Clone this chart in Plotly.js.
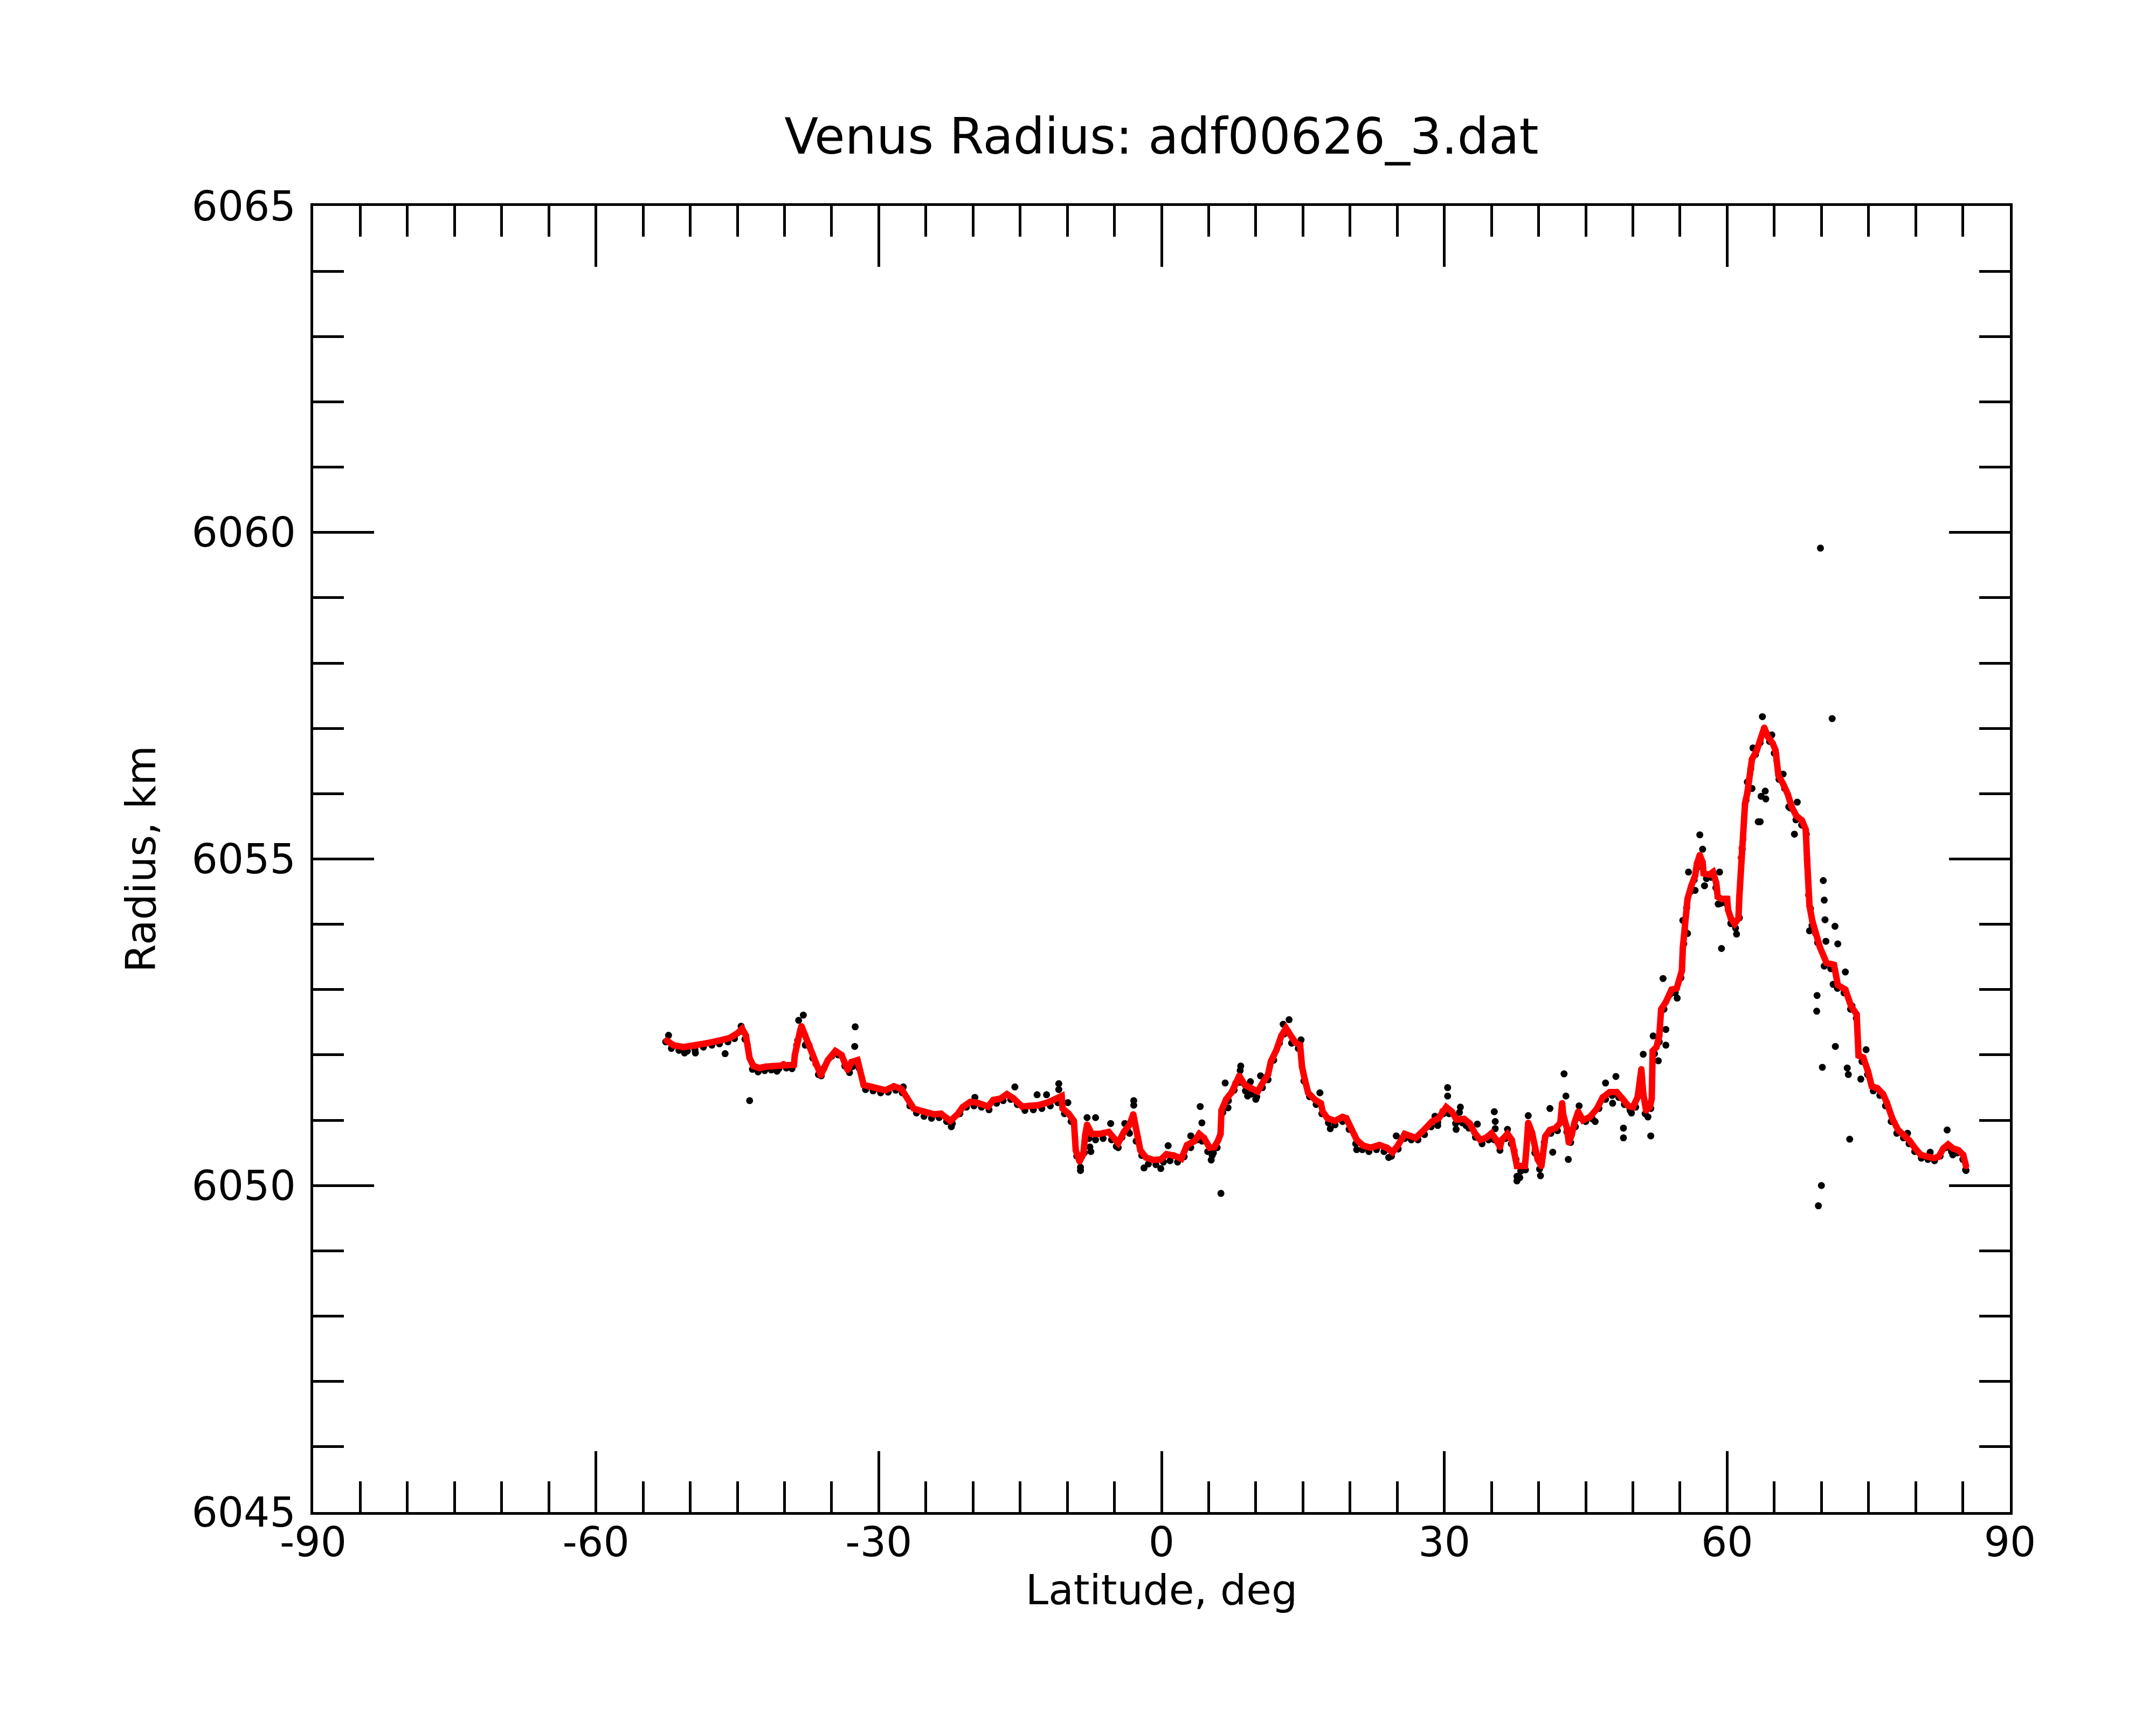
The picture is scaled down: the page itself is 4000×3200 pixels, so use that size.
<!DOCTYPE html>
<html>
<head>
<meta charset="utf-8">
<script src="https://cdn.plot.ly/plotly-3.0.1.min.js"></script>
<style>
  body { margin: 0; background: #fff; }
</style>
</head>
<body>
<div id="chart"></div>
<script>
'use strict';

// smoothed radius (red dots)
var redLat = [-52.5, -51.8, -50.7, -49.45, -48.2, -46.9, -45.8, -45.0, -44.5, -44.1, -43.9, -43.7, -43.3, -42.65, -42.0, -41.2, -40.1, -39.0,
	-38.9, -38.75, -38.4, -38.2, -37.8, -37.35, -36.7, -36.15, -35.4, -34.6, -33.95, -33.3, -32.9, -32.25, -31.6, -30.8, -30.1, -29.3, -28.4,
	-27.6, -26.95, -26.3, -25.65, -24.9, -24.1, -23.4, -22.4, -21.65, -21.1, -20.3, -19.6, -18.4, -17.85, -17.1, -16.4, -15.75, -14.8, -14.0,
	-13.1, -12.1, -11.4, -10.6, -10.5, -9.85, -9.3, -9.2, -9.1, -8.7, -8.3, -8.1, -7.9, -7.4, -6.6, -5.6, -4.6, -4.0, -3.4, -3.0, -2.55, -2.25,
	-1.66, -0.87, -0.08, 0.52, 1.31, 2.1, 2.7, 3.5, 4.0, 4.5, 5.1, 5.6, 6.0, 6.26, 6.36, 6.85, 7.45, 7.84, 8.24, 8.83, 9.6, 10.2, 10.8, 11.3,
	11.6, 12.2, 12.7, 13.2, 13.6, 14.2, 14.7, 14.9, 15.2, 15.55, 16.3, 16.9, 17.1, 17.6, 18.4, 19.2, 19.6, 20.1, 20.7, 21.4, 22.2, 23.1, 23.9,
	24.5, 25.1, 25.8, 26.4, 26.96, 27.7, 28.7, 29.4, 29.8, 30.2, 30.8, 31.3, 32.1, 32.7, 33.2, 33.8, 34.4, 35.0, 35.5, 35.9, 36.1, 36.7, 37.15,
	37.45, 37.7, 38.0, 38.55, 38.7, 38.9, 39.3, 39.6, 39.9, 40.3, 40.7, 41.2, 41.8, 42.3, 42.5, 42.6, 43.0, 43.2, 43.5, 43.8, 44.2, 44.7, 45.45,
	46.2, 46.8, 47.55, 48.3, 48.9, 49.5, 50.0, 50.5, 50.7, 50.9, 51.1, 51.4, 51.8, 52.0, 52.1, 52.5, 52.8, 53.0, 53.5, 54.1, 54.65, 55.2, 55.3,
	55.5, 55.8, 56.2, 56.6, 56.8, 57.1, 57.4, 57.5, 58.1, 58.5, 58.85, 59.0, 59.4, 60.0, 60.1, 60.4, 60.8, 61.2, 61.3, 61.35, 61.45, 61.55,
	61.7, 61.8, 61.9, 62.14, 62.34, 62.64, 63.14, 63.54, 63.94, 64.34, 64.84, 65.14, 65.24, 65.44, 65.94, 66.44, 66.84, 67.34, 67.94, 68.34,
	68.48, 68.6, 68.74, 69.04, 69.34, 69.84, 70.54, 71.34, 71.74, 72.54, 73.14, 73.74, 73.94, 74.44, 74.94, 75.34, 75.94, 76.54, 76.94, 77.54,
	78.14, 78.74, 79.34, 79.94, 80.54, 81.34, 81.94, 82.44, 82.94, 83.44, 83.94, 84.54, 85.04, 85.34];
var redRad = [6052.22, 6052.15, 6052.12, 6052.14, 6052.18, 6052.22, 6052.26, 6052.33, 6052.40, 6052.30, 6052.15, 6051.95, 6051.83, 6051.80,
	6051.82, 6051.83, 6051.86, 6051.85, 6052.00, 6052.15, 6052.33, 6052.44, 6052.30, 6052.15, 6051.86, 6051.69, 6051.92, 6052.06, 6052.00,
	6051.77, 6051.89, 6051.92, 6051.54, 6051.51, 6051.48, 6051.46, 6051.52, 6051.48, 6051.33, 6051.18, 6051.15, 6051.11, 6051.09, 6051.10,
	6050.99, 6051.09, 6051.20, 6051.28, 6051.27, 6051.21, 6051.31, 6051.33, 6051.40, 6051.34, 6051.21, 6051.22, 6051.23, 6051.27, 6051.31,
	6051.37, 6051.18, 6051.10, 6050.99, 6050.78, 6050.54, 6050.37, 6050.48, 6050.77, 6050.93, 6050.79, 6050.79, 6050.82, 6050.65, 6050.82,
	6050.93, 6051.09, 6050.76, 6050.54, 6050.43, 6050.39, 6050.40, 6050.48, 6050.46, 6050.41, 6050.62, 6050.68, 6050.79, 6050.73, 6050.58,
	6050.59, 6050.69, 6050.79, 6051.15, 6051.32, 6051.43, 6051.57, 6051.68, 6051.54, 6051.48, 6051.44, 6051.59, 6051.70, 6051.90, 6052.08,
	6052.29, 6052.41, 6052.32, 6052.19, 6052.15, 6051.82, 6051.62, 6051.42, 6051.31, 6051.26, 6051.13, 6051.03, 6050.99, 6051.05, 6051.03,
	6050.87, 6050.70, 6050.61, 6050.58, 6050.62, 6050.58, 6050.51, 6050.62, 6050.79, 6050.76, 6050.73, 6050.83, 6050.98, 6051.03, 6051.14,
	6051.20, 6051.13, 6051.01, 6051.02, 6050.95, 6050.81, 6050.70, 6050.73, 6050.80, 6050.70, 6050.59, 6050.70, 6050.79, 6050.70, 6050.53,
	6050.30, 6050.30, 6050.30, 6050.55, 6050.96, 6050.81, 6050.55, 6050.40, 6050.30, 6050.75, 6050.85, 6050.88, 6050.96, 6051.26, 6051.09,
	6050.88, 6050.66, 6050.77, 6050.96, 6051.13, 6051.00, 6051.05, 6051.18, 6051.35, 6051.43, 6051.43, 6051.33, 6051.22, 6051.20, 6051.35,
	6051.56, 6051.78, 6051.41, 6051.15, 6051.20, 6051.33, 6052.06, 6052.12, 6052.29, 6052.70, 6052.81, 6053.00, 6053.02, 6053.29, 6053.64,
	6053.92, 6054.39, 6054.59, 6054.74, 6054.93, 6055.06, 6054.95, 6054.78, 6054.76, 6054.80, 6054.63, 6054.42, 6054.39, 6054.39, 6054.22,
	6054.09, 6054.01, 6054.09, 6054.44, 6054.54, 6055.02, 6055.17, 6055.30, 6055.64, 6055.85, 6056.01, 6056.21, 6056.53, 6056.66, 6056.82,
	6057.01, 6056.87, 6056.77, 6056.66, 6056.51, 6056.28, 6056.15, 6055.99, 6055.80, 6055.66, 6055.59, 6055.45, 6054.99, 6054.45, 6054.28,
	6054.05, 6053.86, 6053.65, 6053.41, 6053.38, 6053.07, 6053.00, 6052.75, 6052.62, 6051.99, 6051.96, 6051.75, 6051.52, 6051.49, 6051.40,
	6051.27, 6051.02, 6050.85, 6050.78, 6050.69, 6050.57, 6050.47, 6050.44, 6050.42, 6050.44, 6050.57, 6050.63, 6050.57, 6050.54, 6050.47,
	6050.30];

// raw radius (black dots): main band
var blackLat = [-52.6, -52.0, -51.2, -50.3, -49.5, -48.6, -47.7, -46.9, -46.0, -45.3, -44.7, -44.2, -43.4, -42.8, -42.1, -41.4, -40.6, -39.8,
	-39.2, -38.6, -38.3, -37.6, -37.0, -36.4, -35.8, -35.0, -34.3, -33.6, -32.8, -32.1, -31.4, -30.6, -29.8, -29.0, -28.2, -27.5, -26.7, -26.0,
	-25.2, -24.4, -23.6, -22.8, -22.2, -21.4, -20.7, -19.9, -19.1, -18.3, -17.5, -16.8, -16.0, -15.3, -14.5, -13.6, -12.7, -11.8, -11.0, -10.3,
	-9.6, -9.0, -8.6, -8.2, -7.7, -7.0, -6.2, -5.3, -4.8, -4.2, -3.6, -3.1, -2.7, -2.1, -1.4, -0.6, 0.2, 0.9, 1.7, 2.4, 3.1, 3.8, 4.3, 4.9,
	5.5, 5.9, 6.5, 7.1, 7.7, 8.3, 8.9, 9.5, 10.1, 10.7, 11.3, 11.9, 12.5, 13.0, 13.4, 13.9, 14.5, 15.1, 15.7, 16.4, 17.0, 17.7, 18.4, 19.2,
	19.9, 20.6, 21.3, 22.0, 22.8, 23.6, 24.4, 25.1, 25.8, 26.5, 27.2, 27.9, 28.6, 29.3, 29.9, 30.5, 31.2, 31.9, 32.6, 33.3, 34.0, 34.7, 35.3,
	35.9, 36.5, 37.1, 37.6, 38.1, 38.6, 39.1, 39.6, 40.1, 40.6, 41.3, 42.0, 42.5, 43.0, 43.4, 43.9, 44.4, 45.0, 45.7, 46.4, 47.1, 47.8, 48.5,
	49.1, 49.7, 50.3, 50.8, 51.3, 51.9, 52.3, 52.8, 53.3, 53.9, 54.5, 55.1, 55.4, 55.7, 56.1, 56.5, 56.9, 57.3, 57.8, 58.3, 58.8, 59.3, 59.9,
	60.4, 60.9, 61.3, 61.6, 62.0, 62.5, 63.0, 63.5, 63.9, 64.5, 65.0, 65.5, 66.1, 66.7, 67.3, 67.9, 68.4, 69.0, 69.6, 70.3, 71.0, 71.7, 72.4,
	73.1, 73.7, 74.3, 74.9, 75.5, 76.2, 76.8, 77.4, 78.0, 78.7, 79.3, 79.9, 80.6, 81.3, 82.0, 82.6, 83.2, 83.8, 84.4, 85.0, 85.3];
var blackRad = [6052.20, 6052.10, 6052.07, 6052.06, 6052.08, 6052.12, 6052.15, 6052.17, 6052.20, 6052.25, 6052.36, 6052.24, 6051.78, 6051.74,
	6051.76, 6051.77, 6051.79, 6051.80, 6051.79, 6052.22, 6052.38, 6052.20, 6051.95, 6051.70, 6051.80, 6051.98, 6052.00, 6051.83, 6051.82,
	6051.80, 6051.47, 6051.45, 6051.42, 6051.43, 6051.46, 6051.42, 6051.22, 6051.11, 6051.06, 6051.03, 6051.04, 6050.98, 6050.95, 6051.10,
	6051.20, 6051.22, 6051.20, 6051.16, 6051.26, 6051.30, 6051.32, 6051.24, 6051.15, 6051.16, 6051.18, 6051.22, 6051.27, 6051.10, 6050.98,
	6050.45, 6050.28, 6050.50, 6050.72, 6050.70, 6050.72, 6050.70, 6050.60, 6050.74, 6050.84, 6051.02, 6050.68, 6050.46, 6050.33, 6050.32,
	6050.36, 6050.38, 6050.36, 6050.44, 6050.58, 6050.70, 6050.68, 6050.52, 6050.50, 6050.58, 6051.12, 6051.30, 6051.46, 6051.58, 6051.45,
	6051.40, 6051.36, 6051.50, 6051.62, 6051.92, 6052.18, 6052.32, 6052.36, 6052.20, 6052.10, 6051.60, 6051.36, 6051.24, 6051.10, 6050.96,
	6050.93, 6050.98, 6050.86, 6050.64, 6050.55, 6050.52, 6050.55, 6050.52, 6050.45, 6050.56, 6050.72, 6050.70, 6050.70, 6050.78, 6050.90,
	6050.97, 6051.10, 6051.10, 6050.95, 6050.96, 6050.88, 6050.74, 6050.64, 6050.70, 6050.70, 6050.54, 6050.72, 6050.64, 6050.40, 6050.22,
	6050.24, 6050.84, 6050.50, 6050.25, 6050.66, 6050.80, 6050.84, 6051.20, 6050.82, 6050.66, 6050.90, 6051.04, 6050.98, 6051.02, 6051.18,
	6051.32, 6051.38, 6051.35, 6051.24, 6051.15, 6051.20, 6051.64, 6051.10, 6051.18, 6052.02, 6052.20, 6052.70, 6052.92, 6052.95, 6053.18,
	6053.70, 6054.25, 6054.50, 6054.68, 6054.88, 6054.92, 6054.70, 6054.72, 6054.56, 6054.32, 6054.32, 6054.02, 6053.94, 6054.10, 6055.15,
	6055.90, 6056.38, 6056.60, 6056.78, 6056.96, 6056.80, 6056.62, 6056.22, 6056.08, 6055.78, 6055.60, 6055.52, 6055.38, 6053.98, 6053.72,
	6053.36, 6053.32, 6053.02, 6052.95, 6052.70, 6052.56, 6051.90, 6051.70, 6051.45, 6051.38, 6051.22, 6050.98, 6050.80, 6050.73, 6050.64,
	6050.52, 6050.42, 6050.40, 6050.38, 6050.45, 6050.58, 6050.52, 6050.50, 6050.40, 6050.24];

// raw radius (black dots): scattered points off the band
var strayLat = [-52.3, -50.6, -49.45, -46.3, -44.6, -43.7, -40.8, -38.5, -38.0, -37.8, -36.1, -33.1, -32.5, -32.55, -27.4, -22.3, -19.8,
	-15.56, -13.2, -12.2, -10.9, -10.9, -9.94, -8.6, -7.9, -7.6, -7.5, -7.0, -5.4, -4.6, -3.9, -3.4, -2.95, -2.95, -1.86, -0.08, 0.7, 3.1,
	4.1, 4.28, 5.27, 5.37, 6.3, 6.75, 7.05, 8.34, 8.4, 9.13, 9.43, 10.0, 10.5, 12.9, 13.53, 13.8, 14.8, 16.8, 17.9, 20.7, 24.1, 24.9, 29.0,
	29.3, 30.35, 30.35, 31.25, 31.6, 31.7, 32.3, 33.5, 35.3, 35.4, 35.4, 36.7, 37.7, 37.7, 38.0, 38.9, 40.2, 41.2, 41.5, 42.7, 42.9, 43.15,
	44.3, 46.0, 47.1, 47.85, 48.2, 49.0, 49.0, 49.85, 51.1, 51.6, 51.9, 52.15, 52.7, 53.2, 53.5, 53.5, 54.7, 55.3, 55.8, 55.9, 56.6, 57.1,
	57.4, 57.6, 59.05, 59.2, 59.4, 60.4, 61.0, 62.14, 62.64, 62.74, 63.3, 63.5, 63.6, 63.74, 64.04, 64.1, 64.74, 65.94, 66.54, 67.14, 67.44,
	68.74, 68.84, 69.5, 69.54, 69.68, 69.9, 70.0, 70.1, 70.2, 70.3, 70.38, 70.48, 71.14, 71.24, 71.44, 71.48, 71.74, 72.54, 72.74, 72.86,
	73.0, 73.24, 74.18, 74.74, 79.14, 81.54, 83.34, 83.94, 85.34];
var strayRad = [6052.30, 6052.03, 6052.03, 6052.02, 6052.44, 6051.30, 6051.75, 6052.53, 6052.61, 6052.15, 6051.68, 6051.73, 6052.43,
	6052.13, 6051.51, 6050.90, 6051.35, 6051.51, 6051.39, 6051.39, 6051.56, 6051.47, 6051.27, 6050.23, 6051.04, 6050.59, 6050.52, 6051.04,
	6050.95, 6050.58, 6050.95, 6050.80, 6051.30, 6051.23, 6050.27, 6050.26, 6050.61, 6050.76, 6051.21, 6050.96, 6050.39, 6050.46, 6049.88,
	6051.57, 6051.19, 6051.76, 6051.83, 6051.37, 6051.59, 6051.32, 6051.68, 6052.47, 6052.54, 6052.18, 6052.23, 6051.42, 6050.87, 6050.55,
	6050.43, 6050.76, 6051.06, 6050.92, 6051.50, 6051.37, 6050.86, 6051.12, 6051.20, 6050.92, 6050.94, 6051.13, 6050.98, 6050.87, 6050.86,
	6050.14, 6050.07, 6050.12, 6051.07, 6050.15, 6051.18, 6050.51, 6051.71, 6051.37, 6050.40, 6051.22, 6050.98, 6051.57, 6051.26, 6051.67,
	6050.88, 6050.73, 6051.11, 6052.01, 6051.05, 6050.76, 6052.29, 6051.91, 6053.17, 6052.39, 6052.15, 6052.87, 6054.06, 6053.86, 6054.80,
	6054.52, 6055.37, 6055.15, 6054.59, 6054.31, 6054.80, 6053.63, 6054.01, 6053.85, 6056.18, 6056.08, 6056.70, 6055.57, 6055.57, 6055.96,
	6057.18, 6056.04, 6055.92, 6056.90, 6056.30, 6055.80, 6055.38, 6055.87, 6053.90, 6054.24, 6052.67, 6052.91, 6049.69, 6059.76, 6050.00,
	6051.81, 6054.67, 6054.37, 6054.07, 6053.74, 6057.15, 6053.08, 6053.97, 6052.13, 6053.70, 6053.27, 6051.80, 6051.70, 6050.71, 6052.75,
	6051.63, 6052.08, 6050.80, 6050.51, 6050.85, 6050.47, 6050.23];

var latTicks = [-90, -60, -30, 0, 30, 60, 90];
var latLabels = ['-90', '-60', '-30', '0', '30', '60', '90'];

var font = 'DejaVu Sans';

var rawDots = {
	x: blackLat.concat(strayLat),
	y: blackRad.concat(strayRad),
	type: 'scatter',
	mode: 'markers',
	marker: {color: 'black', size: 13},
	hoverinfo: 'skip'
};

var smoothDots = {
	x: redLat,
	y: redRad,
	type: 'scatter',
	mode: 'lines+markers',
	line: {color: 'red', width: 12},
	marker: {color: 'red', size: 12},
	hoverinfo: 'skip'
};

var axisCommon = {
	ticks: 'inside',
	ticklen: 113,
	tickwidth: 5,
	tickcolor: 'black',
	showline: true,
	linewidth: 5,
	linecolor: 'black',
	mirror: 'allticks',
	showgrid: false,
	zeroline: false,
	tickfont: {family: font, size: 76, color: 'black'}
};

var layout = {
	width: 4000,
	height: 3200,
	autosize: false,
	showlegend: false,
	paper_bgcolor: 'white',
	plot_bgcolor: 'white',
	margin: {l: 581, r: 271, t: 382, b: 395},
	font: {family: font, color: 'black'},
	title: {
		text: 'Venus Radius: adf00626_3.dat',
		font: {family: font, size: 92, color: 'black'},
		x: 0.5, xref: 'paper', xanchor: 'center',
		y: 0.921, yref: 'container', yanchor: 'middle'
	},
	xaxis: Object.assign({}, axisCommon, {
		range: [-90, 90],
		tickmode: 'array',
		tickvals: latTicks,
		ticktext: latLabels,
		ticklabelstandoff: -14,
		minor: {tickmode: 'linear', tick0: 0, dtick: 5, ticks: 'inside', ticklen: 57, tickwidth: 5, tickcolor: 'black', showgrid: false},
		title: {text: 'Latitude, deg', font: {family: font, size: 76, color: 'black'}, standoff: 0}
	}),
	yaxis: Object.assign({}, axisCommon, {
		range: [6045, 6065],
		tickmode: 'linear',
		tick0: 6045,
		dtick: 5,
		tickformat: 'd',
		ticklabelstandoff: 12,
		minor: {tickmode: 'linear', tick0: 6045, dtick: 1, ticks: 'inside', ticklen: 57, tickwidth: 5, tickcolor: 'black', showgrid: false},
		title: {text: 'Radius, km', font: {family: font, size: 76, color: 'black'}, standoff: 43}
	})
};

Plotly.newPlot('chart', [rawDots, smoothDots], layout, {staticPlot: true});
</script>
</body>
</html>
